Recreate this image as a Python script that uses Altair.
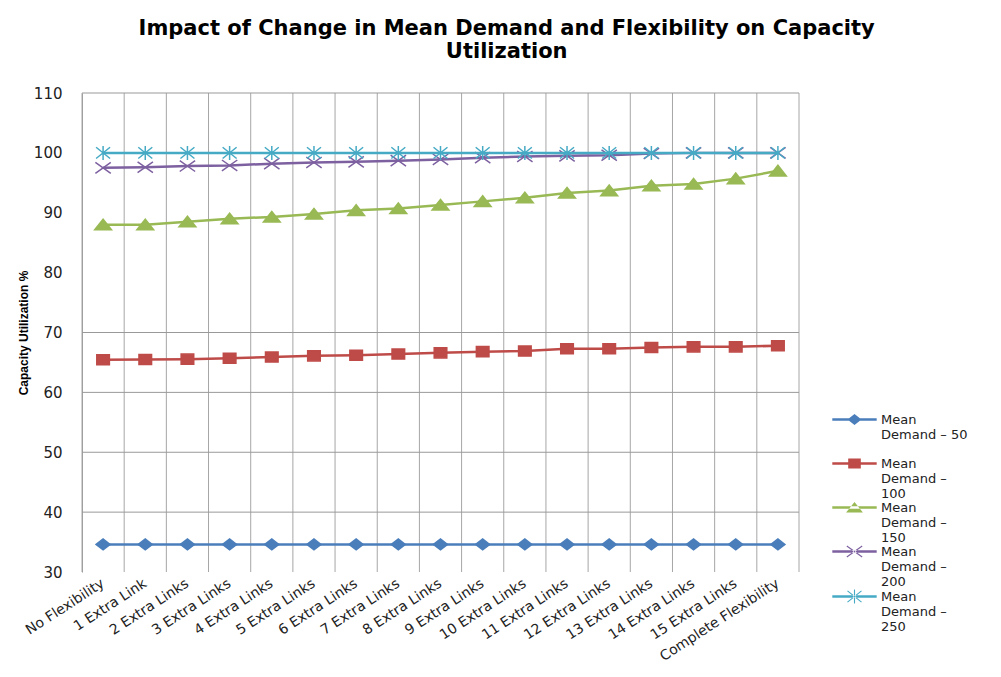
import altair as alt
import pandas as pd
import math

categories = ["No Flexibility", "1 Extra Link", "2 Extra Links", "3 Extra Links", "4 Extra Links",
              "5 Extra Links", "6 Extra Links", "7 Extra Links", "8 Extra Links", "9 Extra Links",
              "10 Extra Links", "11 Extra Links", "12 Extra Links", "13 Extra Links", "14 Extra Links",
              "15 Extra Links", "Complete Flexibility"]
series_names = ["Mean Demand – 50", "Mean Demand – 100", "Mean Demand – 150",
                "Mean Demand – 200", "Mean Demand – 250"]
demand_50 = [34.6, 34.6, 34.6, 34.6, 34.6, 34.6, 34.6, 34.6, 34.6, 34.6, 34.6, 34.6, 34.6, 34.6, 34.6, 34.6, 34.6]
demand_100 = [65.45, 65.5, 65.55, 65.7, 65.9, 66.1, 66.2, 66.4, 66.6, 66.8, 66.9, 67.3, 67.3, 67.5, 67.6, 67.6, 67.8]
demand_150 = [88.0, 88.0, 88.5, 89.0, 89.3, 89.8, 90.4, 90.7, 91.3, 91.9, 92.5, 93.3, 93.7, 94.5, 94.8, 95.7, 97.0]
demand_200 = [97.5, 97.6, 97.8, 97.9, 98.2, 98.4, 98.5, 98.7, 98.9, 99.2, 99.4, 99.5, 99.6, 99.9, 100.0, 100.0, 100.0]
demand_250 = [100.0, 100.0, 100.0, 100.0, 100.0, 100.0, 100.0, 100.0, 100.0, 100.0, 100.0, 100.0, 100.0, 100.0, 100.0, 100.0, 100.0]
y_ticks = [30, 40, 50, 60, 70, 80, 90, 100, 110]
h_grid = [40, 50, 60, 70, 110]

colors = ["#4A7EBB", "#BE4B48", "#98B954", "#7D60A0", "#46AAC5"]

all_values = [demand_50, demand_100, demand_150, demand_200, demand_250]
rows = []
for s, vals in zip(series_names, all_values):
    for c, v in zip(categories, vals):
        rows.append({"category": c, "series": s, "value": v})
df = pd.DataFrame(rows)
df_vgrid = pd.DataFrame({"category": categories})
df_vlast = pd.DataFrame({"category": categories[-1:]})
df_hgrid = pd.DataFrame({"value": h_grid})

# marker shapes in the plot
marker_paths = [
    "M-1,0L0,-0.78L1,0L0,0.78Z",
    "M-0.9,-0.72L0.9,-0.72L0.9,0.72L-0.9,0.72Z",
    "M-1.2,0.72L1.2,0.72L0,-0.8Z",
    "M-1.1,-0.78L1.1,0.78M-1.1,0.78L1.1,-0.78",
    "M-1,-0.8L1,0.8M-1,0.8L1,-0.8M0,-1L0,1",
]

# legend symbols: line + marker (filled polygons)
K = 7.0 / 6.0


def poly(pts, k=K):
    return "M" + "L".join(f"{x * k:.3f},{y * k:.3f}" for x, y in pts) + "Z"


def bar(p1, p2, t):
    dx, dy = p2[0] - p1[0], p2[1] - p1[1]
    L = math.hypot(dx, dy)
    nx, ny = -dy / L * t, dx / L * t
    return [(p1[0] + nx, p1[1] + ny), (p2[0] + nx, p2[1] + ny),
            (p2[0] - nx, p2[1] - ny), (p1[0] - nx, p1[1] - ny)]


line_part = poly([(-3.7 / K, -0.2 / K), (3.7 / K, -0.2 / K), (3.7 / K, 0.2 / K), (-3.7 / K, 0.2 / K)])
legend_paths = [
    line_part + poly([(-1, 0), (0, -0.78), (1, 0), (0, 0.78)]),
    line_part + poly([(-0.9, -0.72), (0.9, -0.72), (0.9, 0.72), (-0.9, 0.72)]),
    line_part + poly([(-1.2, 0.72), (1.2, 0.72), (0, -0.8)]),
    line_part + poly(bar((-1.1, -0.78), (1.1, 0.78), 0.08)) + poly(bar((-1.1, 0.78), (1.1, -0.78), 0.08)),
    line_part + poly(bar((-1, -0.8), (1, 0.8), 0.08)) + poly(bar((-1, 0.8), (1, -0.8), 0.08))
    + poly(bar((0, -1), (0, 1), 0.08)),
]

x_scale = alt.Scale(type="band", paddingInner=0, paddingOuter=0)
x_axis = alt.Axis(title=None, labelAngle=-33, labelAlign="right", labelBaseline="middle",
                  labelFont="DejaVu Sans", labelFontSize=14, labelColor="#222",
                  labelPadding=10, ticks=False, domain=False, grid=False, labelLimit=300)
y_scale = alt.Scale(domain=[30, 110], nice=False, zero=False)
y_axis = alt.Axis(title="Capacity Utilization %", values=y_ticks, grid=False, ticks=False,
                  domain=True, domainColor="#999", domainWidth=1,
                  labelFont="DejaVu Sans", labelFontSize=15, labelColor="#222", labelPadding=20,
                  titleFont="Liberation Sans Narrow, Liberation Sans, sans-serif", titleFontSize=12,
                  titleFontWeight="bold", titleColor="#000", titlePadding=3)


def X(**kw):
    return alt.X("category:N", sort=categories, scale=x_scale, axis=x_axis, **kw)


def Y():
    return alt.Y("value:Q", scale=y_scale, axis=y_axis)


vgrid = alt.Chart(df_vgrid).mark_rule(color="#a6a6a6", strokeWidth=1).encode(x=X(bandPosition=0))
vlast = alt.Chart(df_vlast).mark_rule(color="#a6a6a6", strokeWidth=1).encode(x=X(bandPosition=1))
hgrid = alt.Chart(df_hgrid).mark_rule(color="#999999", strokeWidth=1).encode(y=Y())

series_layers = []
for s, c, p in zip(series_names, colors, marker_paths):
    base = alt.Chart(df).transform_filter(alt.datum.series == s)
    series_layers.append(base.mark_line(stroke=c, strokeWidth=2.5).encode(x=X(), y=Y()))
    series_layers.append(
        base.mark_point(shape=p, filled=True, fill=c, stroke=c, size=196, strokeWidth=1.5,
                        opacity=1).encode(x=X(), y=Y())
    )

label_expr = ("datum.label == 'Mean Demand – 50' ? ['Mean', 'Demand – 50', ' '] : "
              "['Mean', 'Demand –', slice(datum.label, 14)]")
leg = alt.Legend(title=None, orient="none", legendX=766, legendY=320, symbolSize=144,
                 labelFont="DejaVu Sans", labelFontSize=13, labelColor="#222", labelOffset=20,
                 rowPadding=0, labelExpr=label_expr, symbolOpacity=1, symbolStrokeWidth=0,
                 padding=0, labelLimit=200)
legend_layer = alt.Chart(df).mark_point(filled=True, opacity=0).encode(
    x=X(), y=Y(),
    color=alt.Color("series:N", scale=alt.Scale(domain=series_names, range=colors), legend=leg),
    shape=alt.Shape("series:N", scale=alt.Scale(domain=series_names, range=legend_paths), legend=leg),
)

chart = alt.layer(vgrid, vlast, hgrid, *series_layers, legend_layer).properties(
    width=717, height=479,
    padding={"left": 9, "top": 10, "right": 0, "bottom": 0},
    title=alt.TitleParams(
        text=["Impact of Change in Mean Demand and Flexibility on Capacity", "Utilization"],
        font="DejaVu Sans", fontSize=21, fontWeight="bold", color="#000",
        anchor="middle", frame="bounds", lineHeight=23, offset=24, dx=14),
).configure_view(stroke=None)

chart.save("out.html", embed_options={"renderer": "svg", "actions": False})
